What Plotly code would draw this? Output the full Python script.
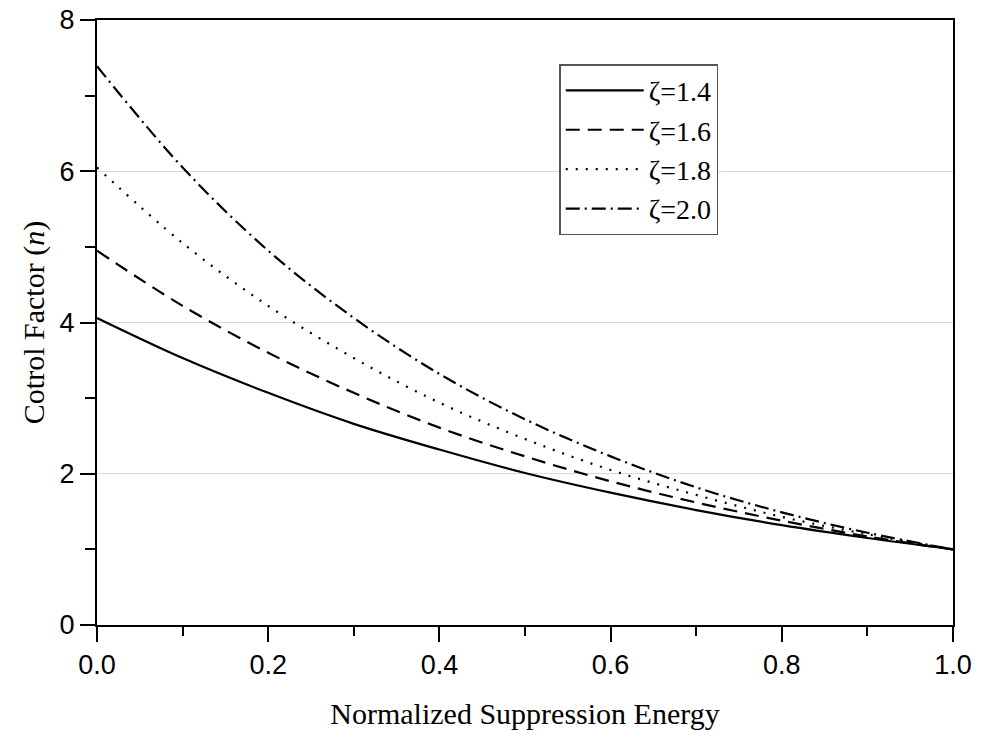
import plotly.graph_objects as go

x_vals = [0.0, 0.1, 0.2, 0.3, 0.4, 0.5, 0.6, 0.7, 0.8, 0.9, 1.0]
n_z14 = [4.06, 3.53, 3.07, 2.66, 2.32, 2.01, 1.75, 1.52, 1.32, 1.15, 1.00]
n_z16 = [4.95, 4.22, 3.60, 3.07, 2.61, 2.23, 1.90, 1.62, 1.38, 1.17, 1.00]
n_z18 = [6.05, 5.05, 4.22, 3.53, 2.94, 2.46, 2.05, 1.72, 1.43, 1.20, 1.00]
n_z20 = [7.39, 6.05, 4.95, 4.06, 3.32, 2.72, 2.23, 1.82, 1.49, 1.22, 1.00]
series_names = ["ζ=1.4", "ζ=1.6", "ζ=1.8", "ζ=2.0"]
x_ticks = [0.0, 0.2, 0.4, 0.6, 0.8, 1.0]
y_ticks = [0, 2, 4, 6, 8]

dashes = ["solid", "14px,8px", "2px,8px", "14px,5px,2px,5px"]
series = [n_z14, n_z16, n_z18, n_z20]

fig = go.Figure()
for i, (name, ys, d) in enumerate(zip(series_names, series, dashes)):
    fig.add_trace(go.Scatter(
        x=x_vals, y=ys, mode="lines", name=name,
        line=dict(color="black", width=2.2, dash=d, shape="spline"),
        legendgroup=f"g{i}",
    ))

serif = "Liberation Serif, Times New Roman, serif"
sans = "Liberation Sans, Arial, sans-serif"

fig.update_layout(
    width=986, height=730,
    margin=dict(l=97, r=33, t=20, b=105),
    paper_bgcolor="white", plot_bgcolor="white",
    showlegend=True,
    legend=dict(
        x=0.54, y=0.927, xanchor="left", yanchor="top",
        bordercolor="#555", borderwidth=1.5, bgcolor="white",
        font=dict(family=serif, size=28, color="black"),
        tracegroupgap=0, itemwidth=78,
    ),
    xaxis=dict(
        range=[0, 1], tickvals=x_ticks, ticktext=[f"{v:.1f}" for v in x_ticks],
        ticks="outside", ticklen=15, tickwidth=2, tickcolor="black",
        minor=dict(dtick=0.1, ticks="outside", ticklen=9, tickwidth=2, tickcolor="black", showgrid=False),
        showline=True, linecolor="black", linewidth=2, mirror=True,
        showgrid=False, zeroline=False, automargin=False,
        tickfont=dict(family=sans, size=27, color="black"),
        title=dict(text="Normalized Suppression Energy", font=dict(family=serif, size=30, color="black"), standoff=30),
    ),
    yaxis=dict(
        range=[0, 8], tickvals=y_ticks,
        ticks="outside", ticklen=15, tickwidth=2, tickcolor="black",
        minor=dict(dtick=1, ticks="outside", ticklen=10, tickwidth=2, tickcolor="black", showgrid=False),
        showline=True, linecolor="black", linewidth=2, mirror=True,
        showgrid=True, gridcolor="#d9d9d9", gridwidth=1, zeroline=False, automargin=False,
        tickfont=dict(family=sans, size=27, color="black"),
        title=dict(text="Cotrol Factor (<i>n</i>)", font=dict(family=serif, size=30, color="black"), standoff=6),
    ),
)

fig.write_html("out.html", config={"displayModeBar": False},
               post_script="document.body.style.margin='0';")
